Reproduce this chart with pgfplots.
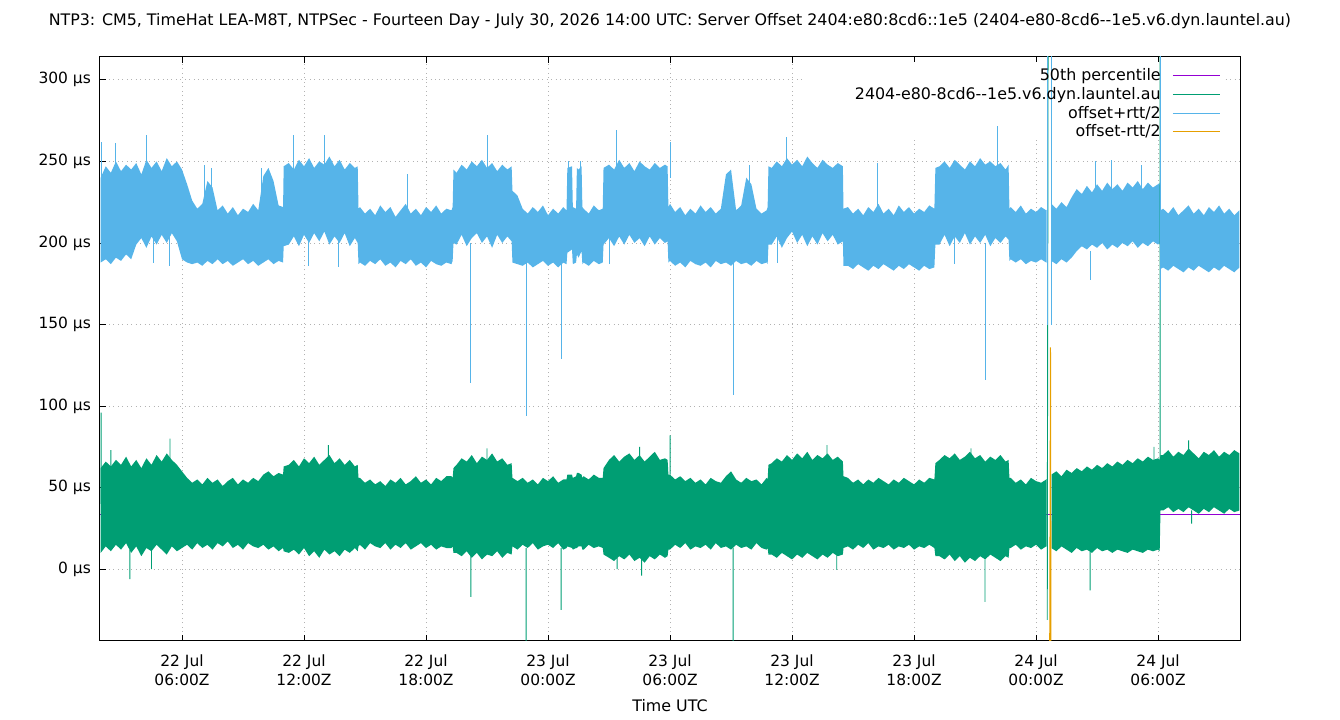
\documentclass[border=0pt]{standalone}
\usepackage{fontspec}
\setmainfont{DejaVu Sans}
\usepackage{pgfplots}
\pgfplotsset{compat=1.18}
\usepgfplotslibrary{fillbetween}
\usepackage{pgfplotstable}

\definecolor{cPurple}{HTML}{9400D3}
\definecolor{cGreen}{HTML}{009E73}
\definecolor{cBlue}{HTML}{56B4E9}
\definecolor{cOrange}{HTML}{E69F00}

% h = hours since 22 Jul 00:00Z; bt/bb = offset+rtt/2 band top/bottom; gt/gb = offset band top/bottom (microseconds)
\pgfplotstableread{
h bt bb gt gb
2.00 240 188 62 10
2.25 247 190 66 14
2.50 243 187 63 11
2.75 250 191 67 15
3.00 244 189 64 12
3.25 248 193 69 16
3.50 245 190 63 10
3.75 249 199 67 14
4.00 242 203 62 8
4.25 251 197 68 13
4.50 246 204 64 11
4.75 250 199 70 15
5.00 244 205 66 12
5.25 252 200 71 9
5.50 247 206 67 14
5.75 250 201 64 11
6.00 245 190 60 13
6.25 236 188 56 15
6.50 226 187 53 12
6.75 221 188 55 16
7.00 224 186 52 13
7.25 238 189 56 15
7.50 234 187 53 12
7.75 220 190 55 16
8.00 223 187 51 14
8.25 218 189 54 17
8.50 222 186 56 13
8.75 217 188 52 15
9.00 221 190 55 12
9.25 219 187 53 16
9.50 224 189 56 14
9.75 220 186 54 13
10.00 241 188 58 15
10.25 246 190 60 12
10.50 238 187 57 14
10.75 223 189 59 11
10.97 222 188 58 13
11.00 247 198 63 11
11.25 249 199 64 10
11.50 245 204 67 12
11.75 251 198 63 9
12.00 247 205 68 13
12.25 252 200 65 8
12.50 246 206 69 11
12.75 250 201 64 7
13.00 248 207 67 12
13.25 253 199 70 9
13.50 247 204 65 11
13.75 251 200 68 8
14.00 245 206 64 12
14.25 249 198 67 10
14.50 246 203 63 13
14.64 247 200 64 11
14.68 221 187 56 14
14.75 222 188 56 15
15.00 218 186 53 12
15.25 221 189 55 16
15.50 217 187 52 14
15.75 223 190 54 13
16.00 219 186 51 16
16.25 222 188 55 12
16.50 216 185 53 15
16.75 220 189 56 13
17.00 224 187 52 16
17.25 218 190 54 12
17.50 221 186 57 14
17.75 217 188 53 16
18.00 222 185 55 13
18.25 219 189 52 15
18.50 223 187 56 12
18.75 218 186 54 14
19.00 221 188 57 13
19.25 220 187 57 13
19.31 222 189 56 14
19.35 245 200 62 10
19.50 243 199 64 10
19.75 248 205 68 8
20.00 245 198 66 11
20.25 250 203 70 7
20.50 247 206 65 10
20.75 251 200 69 6
21.00 246 204 67 9
21.25 249 197 71 8
21.50 244 205 66 11
21.75 248 200 68 7
22.00 245 204 64 10
22.21 247 201 65 9
22.25 232 188 56 14
22.50 229 187 54 12
22.75 221 186 56 15
23.00 218 188 53 13
23.25 222 185 55 16
23.50 219 187 52 12
23.75 223 189 56 14
24.00 217 186 54 15
24.25 221 188 57 13
24.50 218 185 53 16
24.75 222 188 55 12
24.91 220 187 55 13
24.95 246 194 58 14
25.18 247 196 58 13
25.22 222 187 56 12
25.38 221 188 57 13
25.42 246 193 59 13
25.50 245 191 59 14
25.65 247 195 58 14
25.69 222 187 56 12
25.75 221 188 57 12
26.00 218 186 55 15
26.25 223 189 58 13
26.50 220 187 56 14
26.69 221 188 56 13
26.73 246 199 62 9
27.00 248 203 67 7
27.25 245 198 70 5
27.50 251 204 66 8
27.75 246 199 69 6
28.00 249 205 71 9
28.25 244 200 67 5
28.50 250 203 70 7
28.75 247 198 66 4
29.00 245 204 69 8
29.25 249 199 72 6
29.50 246 203 67 9
29.75 248 200 68 7
29.88 247 201 67 8
29.92 222 188 58 12
30.00 224 189 58 12
30.25 219 186 55 15
30.50 222 188 57 13
30.75 217 185 54 16
31.00 221 189 56 12
31.25 218 187 53 14
31.50 223 186 55 13
31.75 219 188 52 15
32.00 222 185 56 12
32.25 218 189 54 16
32.50 221 187 53 13
32.75 242 188 57 14
33.00 245 186 60 12
33.25 220 189 55 15
33.50 223 187 53 13
33.75 240 188 56 14
34.00 236 186 54 12
34.25 221 189 55 16
34.50 218 187 52 13
34.75 220 188 56 12
34.80 222 187 55 13
34.84 247 199 64 9
35.00 246 199 65 9
35.25 250 204 68 7
35.50 247 197 66 10
35.75 252 203 70 8
36.00 248 207 67 6
36.25 251 200 71 9
36.50 247 205 68 7
36.75 253 198 72 10
37.00 249 204 67 8
37.25 246 199 70 6
37.50 251 206 68 9
37.75 248 201 71 7
38.00 246 205 67 10
38.25 249 199 69 8
38.50 247 201 66 9
38.53 221 186 57 13
38.75 222 186 56 14
39.00 218 184 53 12
39.25 221 187 55 15
39.50 217 185 52 13
39.75 222 183 55 16
40.00 219 186 53 12
40.25 224 184 56 14
40.50 218 187 54 13
40.75 221 185 52 15
41.00 217 183 55 12
41.25 223 186 53 14
41.50 219 184 56 13
41.75 222 187 54 15
42.00 218 185 52 12
42.25 221 183 55 14
42.50 219 186 53 13
42.75 223 184 56 15
43.00 221 185 55 13
43.05 246 199 65 8
43.25 247 199 67 8
43.50 250 205 70 6
43.75 246 198 68 9
44.00 251 204 71 5
44.25 248 200 67 8
44.50 245 206 69 4
44.75 250 199 72 7
45.00 247 204 68 5
45.25 252 200 70 8
45.50 248 205 66 6
45.75 250 198 69 9
46.00 247 203 67 7
46.25 249 200 70 5
46.50 245 204 66 8
46.65 248 202 67 7
46.69 221 189 56 13
46.75 222 190 56 13
47.00 219 188 53 15
47.25 223 190 55 12
47.50 218 187 52 14
47.75 221 189 56 13
48.00 219 188 54 15
48.25 222 190 53 12
48.50 220 188 55 14
48.75 224 189 58 13
49.00 221 187 60 11
49.25 225 190 57 14
49.50 222 188 61 12
49.75 228 191 59 10
50.00 233 195 62 13
50.25 230 198 60 11
50.50 235 196 63 12
50.75 231 199 61 10
51.00 236 197 64 13
51.25 232 200 62 11
51.50 237 196 65 12
51.75 233 199 63 10
52.00 236 197 66 12
52.25 232 200 64 11
52.50 237 198 67 10
52.75 234 201 65 12
53.00 238 197 68 11
53.25 233 200 66 10
53.50 237 198 69 12
53.75 234 201 67 11
54.00 236 199 68 12
54.08 237 200 67 11
54.12 220 184 70 36
54.25 221 185 70 36
54.50 218 183 73 38
54.75 222 186 69 35
55.00 217 184 72 37
55.25 220 182 70 35
55.50 223 185 74 38
55.75 218 183 71 36
56.00 221 186 68 34
56.25 217 184 72 37
56.50 222 182 70 35
56.75 219 185 73 38
57.00 223 183 69 36
57.25 218 186 72 34
57.50 221 184 70 37
57.75 217 182 73 35
58.00 220 185 71 36
}\band

\begin{document}
\begin{tikzpicture}
\begin{axis}[
  name=ax,
  at={(0,0)}, anchor=south west,
  scale only axis, width=855pt, height=438pt,
  xmin=1.967, xmax=58.03, ymin=-44, ymax=314,
  font=\fontsize{12}{14}\selectfont,
  xtick={6,12,...,54},
  xticklabels={{22 Jul\\06:00Z},{22 Jul\\12:00Z},{22 Jul\\18:00Z},{23 Jul\\00:00Z},{23 Jul\\06:00Z},{23 Jul\\12:00Z},{23 Jul\\18:00Z},{24 Jul\\00:00Z},{24 Jul\\06:00Z}},
  xticklabel style={align=center, font=\fontsize{11.6}{14.3}\selectfont, yshift=-6.5pt},
  ytick={0,50,...,300},
  yticklabels={0 µs,50 µs,100 µs,150 µs,200 µs,250 µs,300 µs},
  yticklabel style={font=\fontsize{11.6}{14}\selectfont, xshift=-3.3pt},
  tick align=inside, xtick pos=both, ytick pos=left,
  major tick length=4.5pt,
  tick style={black, line width=0.6pt},
  axis line style={line width=0.75pt},
  grid=major,
  major grid style={line width=0.5pt, color=black!30, dash pattern=on 0.75pt off 2.6pt},
  title={NTP3: CM5, TimeHat LEA-M8T, NTPSec - Fourteen Day - July 30, 2026 14:00 UTC: Server Offset 2404:e80:8cd6::1e5 (2404-e80-8cd6-{}-1e5.v6.dyn.launtel.au)},
  title style={at={(axis description cs:0.5,1.048)}, anchor=center, yshift=0pt, font=\fontsize{11.9}{14}\selectfont},
  xlabel={Time UTC},
  xlabel style={at={(axis description cs:0.5,-0.111)}, anchor=center, font=\fontsize{11.9}{14}\selectfont},
  legend style={at={(axis description cs:0.984,0.987)}, anchor=north east, draw=none, fill=none,
    font=\fontsize{11.9}{14}\selectfont, legend cell align=right, row sep=-0.6pt, inner sep=1pt},
  legend plot pos=right,
  unbounded coords=jump,
]
% opaque key area
\fill[white] (axis cs:36.49,264.4) rectangle (axis cs:57.15,311);

% 50th percentile (below the offset band, as in the original drawing order)
\addplot[cPurple, line width=0.75pt, forget plot, on layer=pre main] coordinates {(1.967,33.5) (58.03,33.5)};

% offset (green)
\addplot[draw=none, name path=gt, forget plot] table[x=h, y=gt] {\band};
\addplot[draw=none, name path=gb, forget plot] table[x=h, y=gb] {\band};
\addplot[cGreen, forget plot] fill between[of=gt and gb, soft clip={domain=1:48.52}];
\addplot[cGreen, forget plot] fill between[of=gt and gb, soft clip={domain=48.77:59}];
\addplot[cGreen, line width=0.7pt, forget plot] coordinates {
 (2.02,40) (2.02,96) (2.1,nan)
 (2.5,60) (2.5,73) (3,nan)
 (5.41,60) (5.41,80) (6,nan)
 (13.2,62) (13.2,76) (13.5,nan)
 (21.0,62) (21.0,74) (21.5,nan)
 (28.5,64) (28.5,75) (29,nan)
 (30.0,58) (30.0,82) (30.3,nan)
 (37.72,64) (37.72,76) (38,nan)
 (44.8,66) (44.8,74) (45,nan)
 (53.8,64) (53.8,75) (54,nan)
 (55.5,70) (55.5,79) (55.7,nan)
 (3.44,12) (3.44,-6) (3.6,nan)
 (4.5,12) (4.5,0) (4.7,nan)
 (20.21,10) (20.21,-17) (20.4,nan)
 (22.92,13) (22.92,-60) (23.1,nan)
 (24.64,13) (24.64,-25) (24.8,nan)
 (27.4,7) (27.4,0) (27.6,nan)
 (28.6,7) (28.6,-4) (28.8,nan)
 (33.1,13) (33.1,-60) (33.3,nan)
 (38.2,10) (38.2,-0.4) (38.4,nan)
 (45.49,6) (45.49,-20) (45.7,nan)
 (50.66,11) (50.66,-13) (50.8,nan)
 (55.65,36) (55.65,28) (55.8,nan)
 (48.55,-31) (48.6,400) (48.7,nan)
 (54.1,40) (54.1,400)
};

% offset+rtt/2 (blue)
\addplot[draw=none, name path=bt, forget plot] table[x=h, y=bt] {\band};
\addplot[draw=none, name path=bb, forget plot] table[x=h, y=bb] {\band};
\addplot[cBlue, forget plot] fill between[of=bt and bb, soft clip={domain=1:48.52}];
\addplot[cBlue, forget plot] fill between[of=bt and bb, soft clip={domain=48.77:59}];
\addplot[cBlue, line width=0.7pt, forget plot] coordinates {
 (2.02,230) (2.02,262) (2.1,nan)
 (2.75,240) (2.75,261) (3,nan)
 (4.23,240) (4.23,266) (4.5,nan)
 (7.1,220) (7.1,248) (7.3,nan)
 (7.45,220) (7.45,246) (7.6,nan)
 (9.9,220) (9.9,246) (10.1,nan)
 (11.46,240) (11.46,266) (11.7,nan)
 (13.03,240) (13.03,266) (13.2,nan)
 (17.07,215) (17.07,242) (17.2,nan)
 (21.0,240) (21.0,266) (21.2,nan)
 (25.0,230) (25.0,250) (25.1,nan)
 (25.6,230) (25.6,250) (25.7,nan)
 (27.39,240) (27.39,269) (27.6,nan)
 (30.0,240) (30.0,262) (30.2,nan)
 (33.9,220) (33.9,248) (34.1,nan)
 (35.75,240) (35.75,265) (35.9,nan)
 (40.18,215) (40.18,249) (40.3,nan)
 (46.08,240) (46.08,272) (46.2,nan)
 (50.9,230) (50.9,250) (51,nan)
 (51.7,230) (51.7,251) (51.8,nan)
 (53.2,230) (53.2,248) (53.3,nan)
 (4.6,205) (4.6,188) (4.7,nan)
 (5.4,205) (5.4,186) (5.5,nan)
 (12.2,205) (12.2,186) (12.3,nan)
 (13.7,205) (13.7,185) (13.8,nan)
 (20.21,200) (20.21,114) (20.3,nan)
 (22.92,190) (22.92,94) (23.0,nan)
 (24.64,190) (24.64,129) (24.7,nan)
 (27.0,205) (27.0,187) (27.1,nan)
 (33.1,190) (33.1,107) (33.2,nan)
 (35.3,205) (35.3,188) (35.4,nan)
 (44.0,205) (44.0,187) (44.1,nan)
 (45.49,200) (45.49,116) (45.6,nan)
 (50.66,195) (50.66,177) (50.8,nan)
 (48.57,150) (48.57,400) (48.65,nan)
 (48.77,150) (48.77,400) (48.85,nan)
 (54.1,400) (54.1,165)
};

% offset-rtt/2 (orange)
\addplot[cOrange, line width=0.75pt, forget plot] coordinates {(48.64,-200) (48.71,136) (48.75,-200)};

\addlegendimage{legend image code/.code={\path (0pt,0pt); \draw[cPurple, line width=0.75pt] (7pt,0pt) -- (42pt,0pt);}}
\addlegendentry{50th percentile}
\addlegendimage{legend image code/.code={\path (0pt,0pt); \draw[cGreen, line width=0.75pt] (7pt,0pt) -- (42pt,0pt);}}
\addlegendentry{2404-e80-8cd6-{}-1e5.v6.dyn.launtel.au}
\addlegendimage{legend image code/.code={\path (0pt,0pt); \draw[cBlue, line width=0.75pt] (7pt,0pt) -- (42pt,0pt);}}
\addlegendentry{offset+rtt/2}
\addlegendimage{legend image code/.code={\path (0pt,0pt); \draw[cOrange, line width=0.75pt] (7pt,0pt) -- (42pt,0pt);}}
\addlegendentry{offset-rtt/2}
\end{axis}
\pgfresetboundingbox
\path[use as bounding box] ([xshift=-75pt,yshift=-59.25pt]ax.south west) rectangle ([xshift=75pt,yshift=42.75pt]ax.north east);
\end{tikzpicture}
\end{document}
